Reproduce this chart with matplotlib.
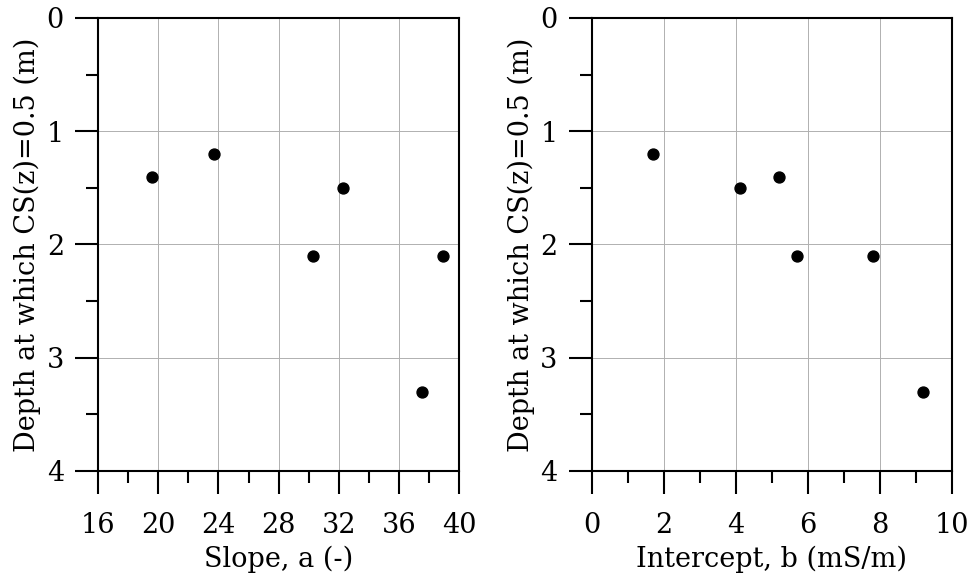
import matplotlib
matplotlib.use("Agg")
import matplotlib.pyplot as plt
from matplotlib.ticker import MultipleLocator

# depth at which CS(z)=0.5 vs. fitted parameters
slope_a = [19.6, 23.7, 30.3, 32.3, 38.9, 37.5]
depth_a = [1.4, 1.2, 2.1, 1.5, 2.1, 3.3]

intercept_b = [1.7, 4.1, 5.2, 5.7, 7.8, 9.2]
depth_b = [1.2, 1.5, 1.4, 2.1, 2.1, 3.3]

ylabel = "Depth at which CS(z)=0.5 (m)"

plt.rcParams['font.family'] = ['DejaVu Serif']
plt.rcParams['font.size'] = 19.5

fig = plt.figure(figsize=(9.74, 5.88), dpi=100)
ax1 = fig.add_axes([0.1006, 0.199, 0.371, 0.7704])
ax2 = fig.add_axes([0.6075, 0.199, 0.3702, 0.7704])

def style(ax, xlim, xmaj, xmin, xlabel):
    ax.set_xlim(*xlim)
    ax.set_ylim(4, 0)
    ax.xaxis.set_major_locator(MultipleLocator(xmaj))
    ax.xaxis.set_minor_locator(MultipleLocator(xmin))
    ax.yaxis.set_major_locator(MultipleLocator(1))
    ax.yaxis.set_minor_locator(MultipleLocator(0.5))
    ax.grid(True, which='major', color='#b0b0b0', linewidth=0.7)
    ax.set_axisbelow(True)
    for s in ax.spines.values():
        s.set_linewidth(1.5)
    ax.tick_params(which='major', direction='out', length=16.5, width=1.5, pad=8)
    ax.tick_params(axis='x', which='major', pad=13)
    ax.tick_params(which='minor', direction='out', length=8.5, width=1.5)
    ax.set_xlabel(xlabel, labelpad=5)
    ax.set_ylabel(ylabel, labelpad=4)

ax1.scatter(slope_a, depth_a, s=62, color='black', zorder=3)
style(ax1, (16, 40), 4, 2, "Slope, a (-)")

ax2.scatter(intercept_b, depth_b, s=62, color='black', zorder=3)
style(ax2, (0, 10), 2, 1, "Intercept, b (mS/m)")

fig.savefig("out.png", dpi=100)
